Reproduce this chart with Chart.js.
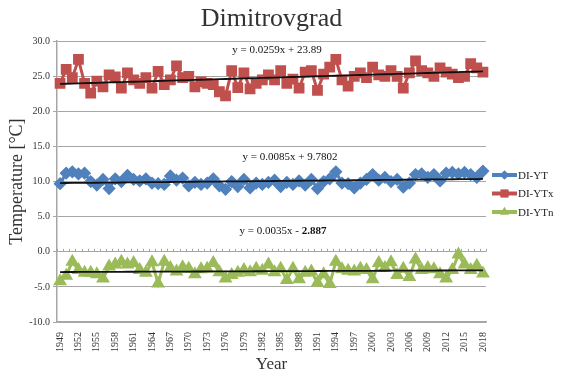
<!DOCTYPE html>
<html>
<head>
<meta charset="utf-8">
<script src="https://cdn.jsdelivr.net/npm/chart.js@4"></script>
<style>
html, body { margin: 0; padding: 0; background: #fff; }
</style>
</head>
<body>
<canvas id="myChart" width="561" height="377"></canvas>
<script>
const years = ["1949","1950","1951","1952","1953","1954","1955","1956","1957","1958",
  "1959","1960","1961","1962","1963","1964","1965","1966","1967","1968",
  "1969","1970","1971","1972","1973","1974","1975","1976","1977","1978",
  "1979","1980","1981","1982","1983","1984","1985","1986","1987","1988",
  "1989","1990","1991","1992","1993","1994","1995","1996","1997","1998",
  "1999","2000","2001","2002","2003","2004","2005","2006","2007","2008",
  "2009","2010","2011","2012","2013","2014","2015","2016","2017","2018"]

// mean annual temperature
const diYT = [9.7,11.2,11.4,11.1,11.2,10.0,9.5,10.3,9.0,10.4,
  10.0,10.9,10.3,10.1,10.4,9.8,9.7,9.6,10.8,10.2,
  10.5,9.4,9.9,9.6,9.8,10.4,9.4,8.9,10.0,9.3,
  10.3,9.1,9.8,9.6,9.9,10.2,9.3,9.9,9.6,10.1,
  9.5,10.3,9.0,10.0,10.4,11.4,9.8,9.7,9.1,9.8,
  10.3,11.0,10.2,10.6,10.0,10.3,9.2,9.8,11.0,11.1,
  10.6,11.0,10.1,11.2,11.3,11.1,11.3,11.0,10.6,11.5]

// max
const diYTx = [24.0,26.0,24.8,27.4,24.0,22.6,24.3,23.5,25.2,24.9,
  23.3,25.5,24.5,24.0,24.8,23.3,25.7,23.8,24.5,26.5,
  24.8,25.0,23.5,24.2,24.0,23.8,22.8,22.2,25.8,23.4,
  25.5,23.2,24.0,24.5,25.2,24.5,25.8,24.0,24.6,23.3,
  25.6,25.8,23.0,25.3,26.3,27.4,24.5,23.6,25.0,25.5,
  24.8,26.3,25.2,25.0,25.8,25.0,23.3,25.5,27.2,25.8,
  25.5,25.0,26.2,25.6,25.3,24.8,25.0,26.8,26.2,25.6]

// min
const diYTn = [-4.2,-3.4,-1.4,-2.6,-3.0,-3.0,-3.2,-3.8,-2.1,-1.8,
  -1.4,-1.8,-1.6,-2.6,-3.0,-1.5,-4.5,-1.4,-2.3,-2.8,
  -2.2,-2.4,-3.2,-2.5,-2.4,-1.6,-2.9,-3.8,-3.3,-3.0,
  -2.6,-2.9,-2.4,-2.7,-1.8,-2.9,-2.4,-4.0,-2.4,-3.9,
  -3.0,-2.8,-4.4,-3.2,-4.6,-1.4,-2.5,-2.7,-2.8,-2.4,
  -2.6,-3.9,-1.6,-2.3,-1.5,-3.3,-2.4,-3.6,-1.1,-2.6,
  -2.3,-2.5,-3.2,-3.8,-2.6,-0.4,-1.8,-2.6,-2.0,-3.1]

// linear trend  y = a*x + b  (x = 1 for 1949)
const trendYTx = [0.0259, 23.89]
const trendYT = [0.0085, 9.7802]
const trendYTn = [0.0035, -2.887]

const serif = "'Liberation Serif', 'DejaVu Serif', serif"
const gridGray = "#a6a6a6"

function trend(coef) {
  return years.map((y, i) => coef[0] * (i + 1) + coef[1])
}

// tick marks along the 0 line (category boundaries)
const zeroTicks = {
  id: "zeroTicks",
  beforeDatasetsDraw(chart) {
    const ctx = chart.ctx
    const xs = chart.scales.x, ys = chart.scales.y
    const y0 = ys.getPixelForValue(0)
    const step = xs.getPixelForValue(1) - xs.getPixelForValue(0)
    ctx.save()
    ctx.strokeStyle = gridGray
    ctx.lineWidth = 1
    ctx.beginPath()
    for (let i = 0; i <= years.length; i++) {
      const x = Math.round(xs.getPixelForValue(i) - step / 2) + 0.5
      ctx.moveTo(x, y0)
      ctx.lineTo(x, y0 - 3)
    }
    ctx.stroke()
    ctx.restore()
  }
}

// trend equations
const equations = {
  id: "equations",
  afterDatasetsDraw(chart) {
    const ctx = chart.ctx
    const ys = chart.scales.y
    ctx.save()
    ctx.fillStyle = "#111"
    ctx.textBaseline = "middle"
    ctx.textAlign = "center"
    ctx.font = "11px " + serif
    ctx.fillText("y = 0.0259x + 23.89", 277, ys.getPixelForValue(28.8))
    ctx.fillText("y = 0.0085x + 9.7802", 290, ys.getPixelForValue(13.5))
    // green one has bold constant
    const a = "y = 0.0035x - ", b = "2.887"
    const wa = ctx.measureText(a).width
    ctx.font = "bold 11px " + serif
    const wb = ctx.measureText(b).width
    const x0 = 283 - (wa + wb) / 2
    ctx.textAlign = "left"
    ctx.font = "11px " + serif
    ctx.fillText(a, x0, ys.getPixelForValue(3.0))
    ctx.font = "bold 11px " + serif
    ctx.fillText(b, x0 + wa, ys.getPixelForValue(3.0))
    ctx.restore()
  }
}

// legend at the right, line + marker
const sideLegend = {
  id: "sideLegend",
  afterDraw(chart) {
    const ctx = chart.ctx
    const items = chart.data.datasets.filter(d => !d.isTrend)
    const left = chart.chartArea.right + 6
    let y = 175
    ctx.save()
    items.forEach(d => {
      ctx.strokeStyle = d.borderColor
      ctx.lineWidth = 4
      ctx.beginPath()
      ctx.moveTo(left, y)
      ctx.lineTo(left + 25, y)
      ctx.stroke()
      ctx.fillStyle = d.borderColor
      Chart.helpers.drawPoint(ctx, {pointStyle: d.pointStyle, radius: d.pointRadius, borderWidth: 0}, left + 12.5, y)
      ctx.fill()
      ctx.fillStyle = "#222"
      ctx.font = "11px " + serif
      ctx.textBaseline = "middle"
      ctx.textAlign = "left"
      ctx.fillText(d.label, left + 26, y + 1)
      y += 18.5
    })
    ctx.restore()
  }
}

const ctx = document.querySelector("#myChart").getContext("2d")

let chart = new Chart(ctx, {
  type: "line",
  data: {
    labels: years,
    datasets: [{
      label: "DI-YT",
      data: diYT,
      borderColor: "#4f81bd",
      backgroundColor: "#4f81bd",
      borderWidth: 3,
      pointStyle: "rectRot",
      pointRadius: 4.5,
      order: 2
    }, {
      label: "DI-YTx",
      data: diYTx,
      borderColor: "#c0504d",
      backgroundColor: "#c0504d",
      borderWidth: 3,
      pointStyle: "rect",
      pointRadius: 5.5,
      order: 2
    }, {
      label: "DI-YTn",
      data: diYTn,
      borderColor: "#9bbb59",
      backgroundColor: "#9bbb59",
      borderWidth: 3,
      pointStyle: "triangle",
      pointRadius: 5,
      order: 2
    }, {
      label: "trendYT",
      isTrend: true,
      data: trend(trendYT),
      borderColor: "#111",
      borderWidth: 1.8,
      pointRadius: 0,
      order: 1
    }, {
      label: "trendYTx",
      isTrend: true,
      data: trend(trendYTx),
      borderColor: "#111",
      borderWidth: 1.8,
      pointRadius: 0,
      order: 1
    }, {
      label: "trendYTn",
      isTrend: true,
      data: trend(trendYTn),
      borderColor: "#111",
      borderWidth: 1.8,
      pointRadius: 0,
      order: 1
    }]
  },
  options: {
    responsive: false,
    animation: false,
    layout: {
      padding: {left: 0, right: 75, top: 0, bottom: 0}
    },
    plugins: {
      legend: {display: false},
      tooltip: {enabled: false},
      title: {
        display: true,
        fullSize: false,
        text: "Dimitrovgrad",
        color: "#333",
        font: {family: serif, size: 26, weight: "normal"},
        padding: {top: 4, bottom: 6}
      }
    },
    scales: {
      x: {
        offset: true,
        grid: {display: false},
        border: {display: true, color: gridGray, width: 1.5},
        ticks: {
          autoSkip: false,
          minRotation: 90,
          maxRotation: 90,
          color: "#333",
          padding: 2,
          font: {family: serif, size: 10},
          callback: (v, i) => i % 3 === 0 ? years[i] : ""
        },
        title: {
          display: true,
          text: "Year",
          color: "#333",
          font: {family: serif, size: 17},
          padding: {top: 0, bottom: 2}
        },
        afterFit: (scale) => { scale.height = 55 }
      },
      y: {
        min: -10,
        max: 30,
        grid: {color: gridGray, lineWidth: 1, tickLength: 4},
        border: {color: gridGray, width: 1.5},
        ticks: {
          stepSize: 5,
          color: "#333",
          padding: 3,
          font: {family: serif, size: 10},
          callback: (v) => v.toFixed(1)
        },
        title: {
          display: true,
          text: "Temperature [°C]",
          color: "#333",
          font: {family: serif, size: 18},
          padding: {top: 6, bottom: 0}
        },
        afterFit: (scale) => { scale.width = 57 }
      }
    }
  },
  plugins: [zeroTicks, equations, sideLegend]
})
</script>
</body>
</html>
